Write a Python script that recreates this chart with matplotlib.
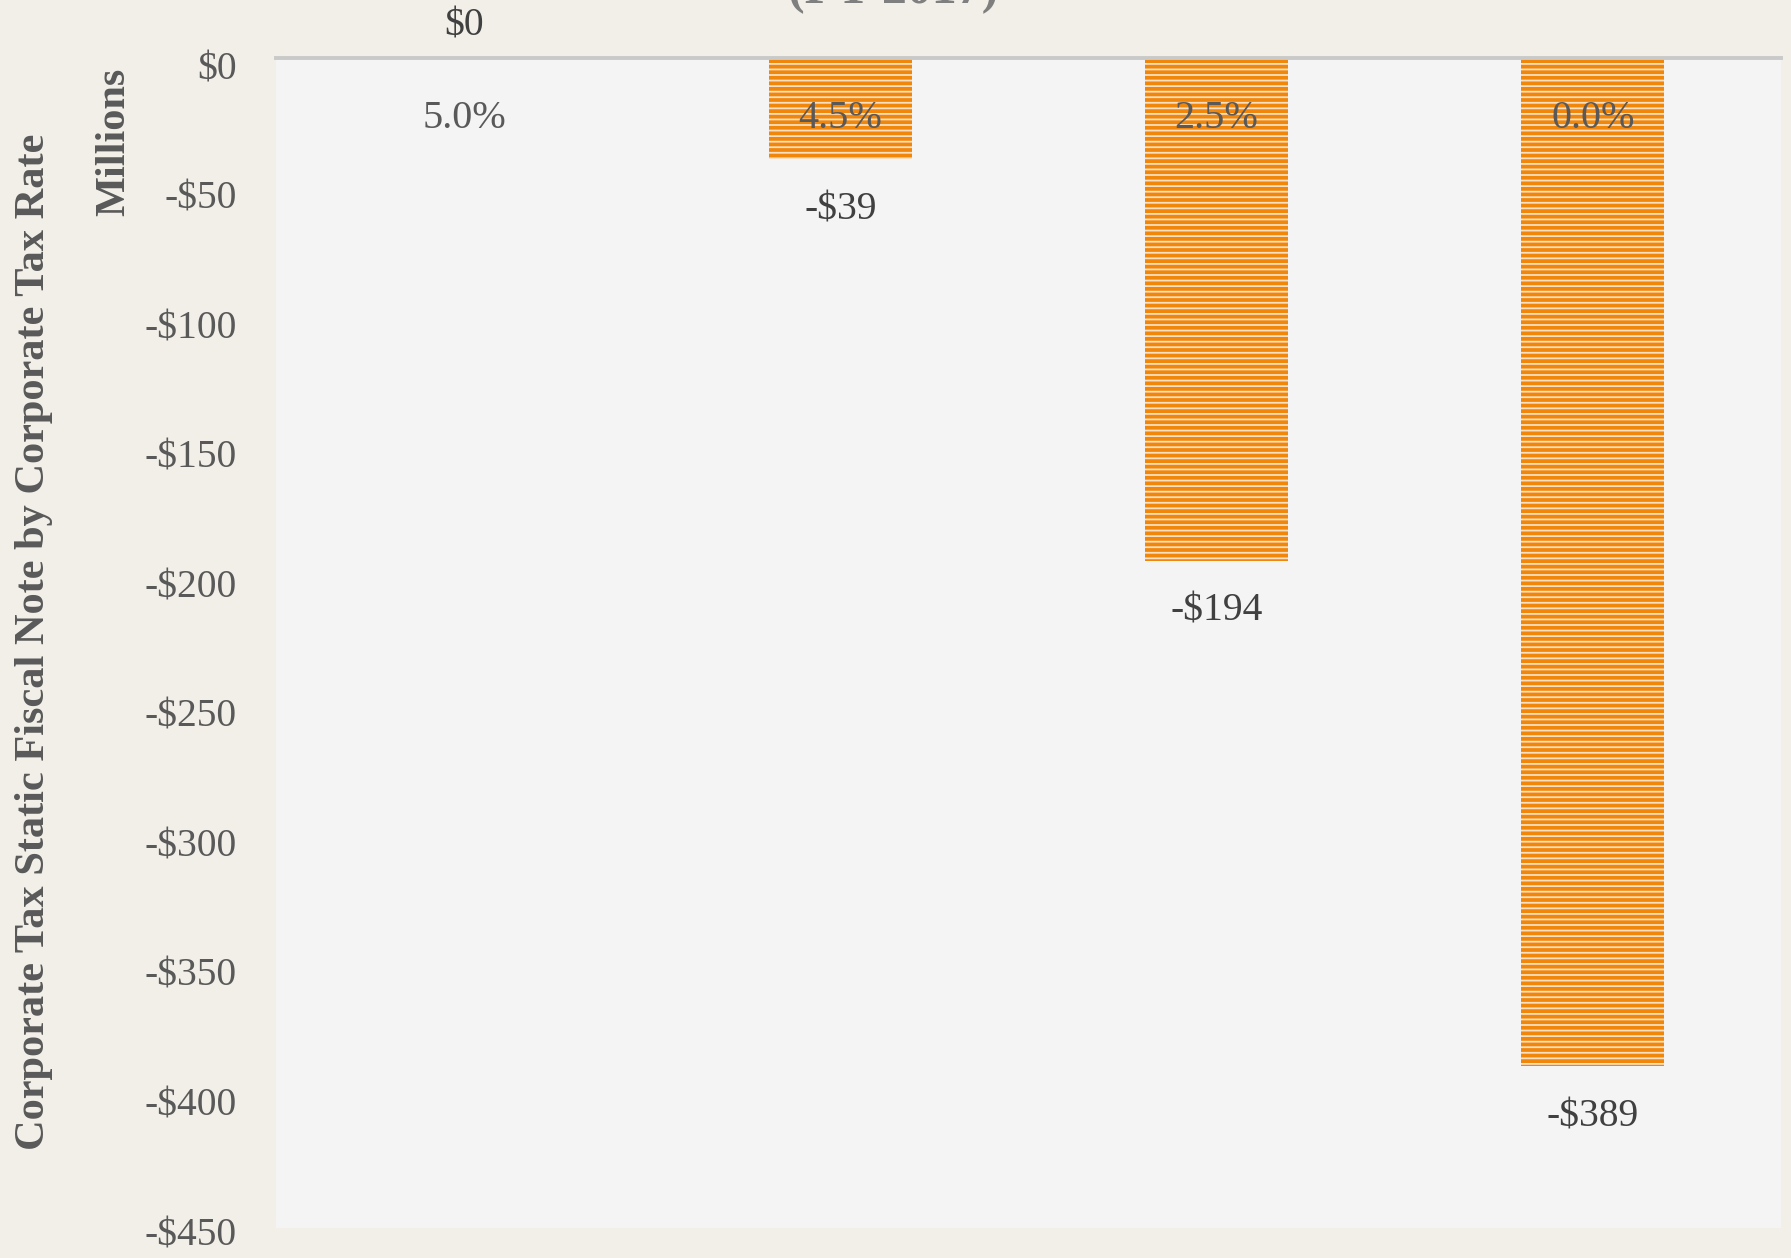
import matplotlib
matplotlib.use("Agg")
import matplotlib.pyplot as plt
import matplotlib.transforms as mtransforms

categories = ["5.0%", "4.5%", "2.5%", "0.0%"]
values = [0, -39, -194, -389]
value_labels = ["$0", "-$39", "-$194", "-$389"]
yticks = [0, -50, -100, -150, -200, -250, -300, -350, -400, -450]
ytick_labels = ["$0", "-$50", "-$100", "-$150", "-$200", "-$250", "-$300", "-$350", "-$400", "-$450"]

plt.rcParams["font.family"] = ["Liberation Serif", "DejaVu Serif"]
plt.rcParams["hatch.linewidth"] = 1.3

W, H = 1791, 1258
fig = plt.figure(figsize=(W / 100, H / 100), dpi=100, facecolor="#F2EFE8")
left, right, top, bottom = 276, 1781, 58, 1228
ax = fig.add_axes([left / W, (H - bottom) / H, (right - left) / W, (bottom - top) / H])
ax.set_facecolor("#F4F4F4")

x = list(range(len(categories)))
ax.bar(x, values, width=0.38, color="#F0860A", edgecolor="#FBE0C4",
       linewidth=0, hatch="---", zorder=2)

ax.set_xlim(-0.5, len(categories) - 0.5)
ax.set_ylim(-451.5, 0)
for s in ax.spines.values():
    s.set_visible(False)
ax.axhline(0, color="#C9C9C9", linewidth=2.8, zorder=3, clip_on=False)

ax.set_xticks([])
ax.set_yticks(yticks)
ax.set_yticklabels(ytick_labels, fontsize=28.5, color="#595959")
ax.tick_params(axis="y", length=0, pad=28)
for lab in ax.get_yticklabels():
    lab.set_transform(lab.get_transform() + mtransforms.ScaledTranslation(0, -7 / 100, fig.dpi_scale_trans))

# category labels near the axis line
blend = mtransforms.blended_transform_factory(ax.transData, ax.transAxes)
for xi, c in zip(x, categories):
    ax.text(xi, 1 - 60 / (bottom - top), c, transform=blend, ha="center", va="center",
            fontsize=29, color="#595959", zorder=4)

# data labels
for xi, v, lab in zip(x, values, value_labels):
    off = 23 if v == 0 else -36.5
    ax.annotate(lab, (xi, v), xytext=(0, off), textcoords="offset points",
                ha="center", va="center", fontsize=28.5, color="#404040",
                annotation_clip=False, zorder=4)

fig.text(34 / W, 1 - 642 / H, "Corporate Tax Static Fiscal Note by Corporate Tax Rate",
         rotation=90, ha="center", va="center", fontsize=30.5, fontweight="bold", color="#595959")
fig.text(114 / W, 1 - 142 / H, "Millions", rotation=90, ha="center", va="center",
         fontsize=30.5, fontweight="bold", color="#595959")
fig.text(893 / W, 1 - 14 / H, "(FY 2017)", ha="center", va="bottom",
         fontsize=36, fontweight="bold", color="#7F7F7F")

fig.savefig("out.png", dpi=100, facecolor=fig.get_facecolor())
